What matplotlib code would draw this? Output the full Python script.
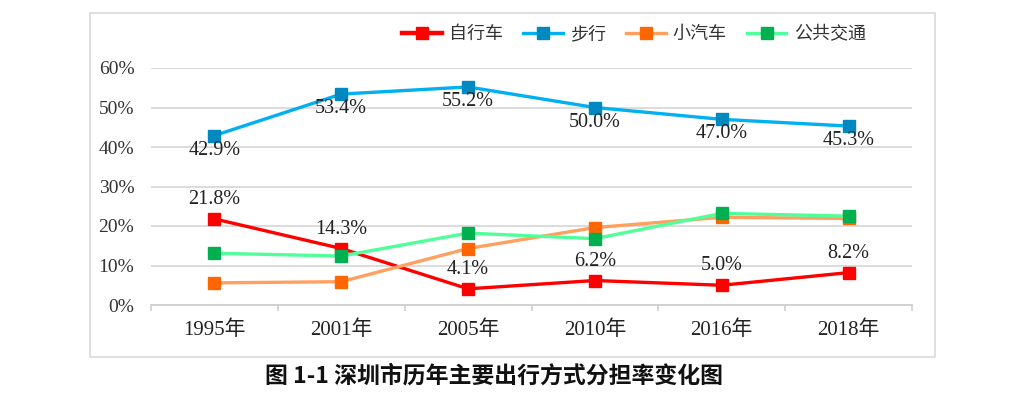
import matplotlib
matplotlib.use("Agg")
import matplotlib.pyplot as plt
from matplotlib.patches import Rectangle
from matplotlib.lines import Line2D
import numpy as np

years = ["1995年", "2001年", "2005年", "2010年", "2016年", "2018年"]
bike = [21.8, 14.3, 4.1, 6.2, 5.0, 8.2]
walk = [42.9, 53.4, 55.2, 50.0, 47.0, 45.3]
car = [5.6, 5.9, 14.3, 19.6, 22.2, 21.9]
bus = [13.1, 12.4, 18.2, 16.8, 23.2, 22.5]
series_names = ["自行车", "步行", "小汽车", "公共交通"]
yticks = [0, 10, 20, 30, 40, 50, 60]

num_font = ["Liberation Serif", "Noto Sans CJK SC"]
cjk_font = ["Noto Sans CJK SC", "DejaVu Sans"]

W, H = 1024, 395
fig = plt.figure(figsize=(W / 100, H / 100), dpi=100)

# outer chart frame
fig.patches.append(Rectangle((90 / W, 1 - 357 / H), (935 - 90) / W, (357 - 13) / H,
                             transform=fig.transFigure, fill=False,
                             edgecolor="#D9D9D9", linewidth=1.2))

ax = fig.add_axes([151 / W, 1 - 305 / H, (912 - 151) / W, (305 - 68) / H])
x = np.arange(len(years))

styles = [
    (bike, "#FF0000", "#FF0000"),
    (walk, "#00B0F0", "#0088C0"),
    (car, "#FFA060", "#FF6600"),
    (bus, "#50FF99", "#00B050"),
]
lw = 2.4
ms = 8.5
for data, lc, mc in styles:
    ax.plot(x, data, color=lc, linewidth=lw, marker="s", markersize=ms,
            markerfacecolor=mc, markeredgecolor=mc, zorder=3, solid_joinstyle="round")

# data labels
for xi, v in zip(x, bike):
    ax.annotate(f"{v:.1f}%", (xi, v), xytext=(0, 14), textcoords="offset points",
                ha="center", va="center", fontsize=14.5, family=num_font, color="#222222")
for xi, v in zip(x, walk):
    ax.annotate(f"{v:.1f}%", (xi, v), xytext=(0, -10.5), textcoords="offset points",
                ha="center", va="center", fontsize=14.5, family=num_font, color="#222222")

ax.set_xlim(-0.5, len(years) - 0.5)
ax.set_ylim(0, 60)
ax.set_yticks(yticks)
ax.set_yticklabels([f"{t}%" for t in yticks], fontsize=14, family=num_font, color="#333333")
ax.set_xticks(x)
ax.set_xticklabels(years, fontsize=15, family=num_font, color="#222222")
ax.set_xticks(np.arange(-0.5, len(years)), minor=True)
ax.tick_params(axis="x", which="major", length=0, pad=11)
ax.tick_params(axis="x", which="minor", length=4, color="#D0D0D0", width=1.2)
ax.tick_params(axis="y", length=0, pad=12)

ax.grid(axis="y", color="#D9D9D9", linewidth=1.3, zorder=0)
ax.set_axisbelow(True)
for s in ["top", "right", "left"]:
    ax.spines[s].set_visible(False)
ax.spines["bottom"].set_color("#D0D0D0")
ax.spines["bottom"].set_linewidth(1.3)
ax.spines["bottom"].set_zorder(1)

handles = [Line2D([0], [0], color=lc, linewidth=lw if i else 3.2, marker="s", markersize=ms,
                  markerfacecolor=mc, markeredgecolor=mc)
           for i, (d, lc, mc) in enumerate(styles)]
fig.legend(handles, series_names, loc="center", bbox_to_anchor=(634 / W, 1 - 34 / H),
           ncol=4, frameon=False, prop={"family": cjk_font, "size": 13, "weight": "light"},
           handlelength=2.2, handletextpad=0.4, columnspacing=1.1, labelcolor="#333333")

fig.text(494 / W, 1 - 376 / H, "图 1-1 深圳市历年主要出行方式分担率变化图",
         ha="center", va="center", fontsize=16.5, fontweight="bold", family=cjk_font,
         color="#111111")

fig.savefig("out.png", dpi=100)
